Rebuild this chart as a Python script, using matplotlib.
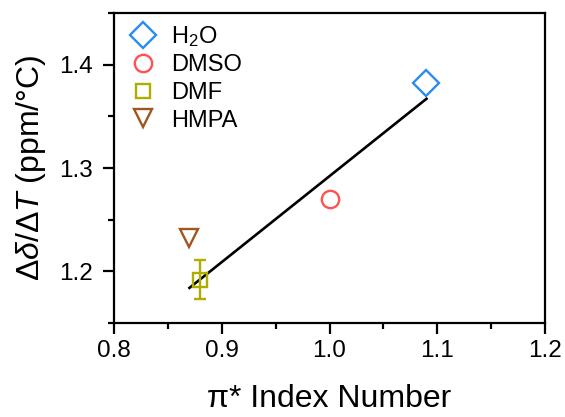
import matplotlib
matplotlib.use("Agg")
import matplotlib.pyplot as plt
from matplotlib.lines import Line2D
from matplotlib.ticker import MultipleLocator, FormatStrFormatter

plt.rcParams['font.family'] = ['Liberation Sans', 'DejaVu Sans']
plt.rcParams['mathtext.fontset'] = 'custom'
plt.rcParams['mathtext.rm'] = 'Liberation Sans'
plt.rcParams['mathtext.it'] = 'Liberation Sans:italic'

# Solvent polarity (pi*) vs temperature coefficient of chemical shift
solvents = ['H$_2$O', 'DMSO', 'DMF', 'HMPA']
pi_star = [1.09, 1.00, 0.88, 0.87]
dd_dT = [1.382, 1.270, 1.192, 1.232]
dd_dT_err = [0.0, 0.0, 0.019, 0.0]
markers = ['D', 'o', 's', 'v']
colors = ['#2A8CF5', '#FF5252', '#AEAE00', '#A0561E']
marker_sizes = [13, 12.5, 10, 12.5]

# linear fit endpoints
fit_x = [0.87, 1.09]
fit_y = [1.184, 1.367]

fig = plt.figure(figsize=(5.65, 4.17), dpi=100)
ax = fig.add_axes([0.2018, 0.2254, 0.7628, 0.7434])

ax.plot(fit_x, fit_y, color='black', lw=1.9, zorder=2)

handles = []
for name, x, y, e, m, c, ms in zip(solvents, pi_star, dd_dT, dd_dT_err,
                                   markers, colors, marker_sizes):
    style = dict(marker=m, ms=ms, mfc='none', mec=c, mew=1.7)
    if e > 0:
        ax.errorbar(x, y, yerr=e, fmt='none', ecolor=c, elinewidth=1.7,
                    capsize=4.5, capthick=1.7, zorder=3)
    ax.plot(x, y, linestyle='none', zorder=4, **style)
    handles.append(Line2D([], [], linestyle='none', label=name, **style))

ax.set_xlim(0.8, 1.2)
ax.set_ylim(1.15, 1.45)
ax.xaxis.set_major_locator(MultipleLocator(0.1))
ax.xaxis.set_minor_locator(MultipleLocator(0.05))
ax.yaxis.set_major_locator(MultipleLocator(0.1))
ax.yaxis.set_minor_locator(MultipleLocator(0.05))
ax.xaxis.set_major_formatter(FormatStrFormatter('%.1f'))
ax.yaxis.set_major_formatter(FormatStrFormatter('%.1f'))

for s in ax.spines.values():
    s.set_linewidth(1.6)
ax.tick_params(which='major', direction='out', length=8, width=1.6,
               labelsize=17.5)
ax.tick_params(which='minor', direction='out', length=4.5, width=1.6)
ax.tick_params(axis='x', which='major', pad=4)
ax.tick_params(axis='y', which='major', pad=7)

ax.set_xlabel('π* Index Number', fontsize=23, labelpad=16)
ax.set_ylabel('Δ$\\mathit{δ}$/Δ$\\mathit{T}$ (ppm/°C)', fontsize=23, labelpad=8)

ax.legend(handles=handles, loc='upper left', bbox_to_anchor=(0.04, 0.965),
          frameon=False, fontsize=17, numpoints=1, handlelength=1.0,
          handletextpad=0.7, labelspacing=0.24, borderpad=0, borderaxespad=0)

fig.savefig('out.png', dpi=100)
